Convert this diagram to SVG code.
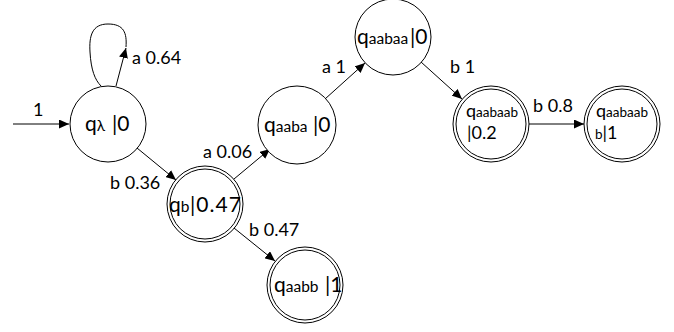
<svg xmlns="http://www.w3.org/2000/svg" width="674" height="332" viewBox="0 0 674 332">
  <defs>
    <marker id="arrow" markerWidth="10" markerHeight="9" refX="10" refY="4.5" orient="auto" markerUnits="userSpaceOnUse">
      <path d="M0,0 L10,4.5 L0,9 z" fill="#000"/>
    </marker>
  </defs>
  <style>
    .state { fill: #fff; stroke: #000; stroke-width: 1; }
    .edge { fill: none; stroke: #000; stroke-width: 1; }
    .name { font-family: Lato, "Liberation Sans", sans-serif; font-size: 21px; fill: #000; }
    .sub { font-size: 15.5px; }
    .small { font-size: 18px; }
    .small .sub { font-size: 13.5px; }
    .label { font-family: Lato, "Liberation Sans", sans-serif; font-size: 18px; fill: #000; }
  </style>
  <rect width="674" height="332" fill="#fff"/>

  <!-- transitions -->
  <g id="edges">
    <line class="edge" x1="13" y1="124" x2="69" y2="124" marker-end="url(#arrow)"/>
    <path class="edge" d="M116,86 L126,48" marker-end="url(#arrow)"/>
    <path class="edge" d="M126,47 C127,33 124,24 108,24 C92,24 89,36 90,52 C91,70 95,80 101,86"/>
    <line class="edge" x1="137" y1="148" x2="176" y2="180" marker-end="url(#arrow)"/>
    <line class="edge" x1="234" y1="179" x2="270" y2="149" marker-end="url(#arrow)"/>
    <line class="edge" x1="325" y1="99" x2="365" y2="63" marker-end="url(#arrow)"/>
    <line class="edge" x1="421" y1="62" x2="462" y2="99" marker-end="url(#arrow)"/>
    <line class="edge" x1="529" y1="124" x2="584" y2="124" marker-end="url(#arrow)"/>
    <line class="edge" x1="234" y1="228" x2="275" y2="261" marker-end="url(#arrow)"/>
    <text class="label" x="33" y="116">1</text>
    <text class="label" x="132" y="64">a 0.64</text>
    <text class="label" x="110" y="189">b 0.36</text>
    <text class="label" x="203" y="158">a 0.06</text>
    <text class="label" x="322" y="73">a 1</text>
    <text class="label" x="450" y="73">b 1</text>
    <text class="label" x="533" y="112">b 0.8</text>
    <text class="label" x="249" y="236">b 0.47</text>
  </g>

  <g id="q_lambda">
    <circle class="state" cx="108" cy="124" r="38"/>
    <text class="name" x="85" y="131">q<tspan class="sub">λ</tspan><tspan x="112">|0</tspan></text>
  </g>

  <g id="q_b">
    <circle class="state" cx="205" cy="204" r="38"/>
    <circle class="state" cx="205" cy="204" r="35"/>
    <text class="name" x="169" y="212">q<tspan class="sub">b</tspan><tspan x="190" textLength="51">|0.47</tspan></text>
  </g>

  <g id="q_aaba">
    <circle class="state" cx="297" cy="125" r="39"/>
    <text class="name" x="264" y="132">q<tspan class="sub">aaba</tspan><tspan x="313">|0</tspan></text>
  </g>

  <g id="q_aabaa">
    <circle class="state" cx="393" cy="37" r="38"/>
    <text class="name" x="357" y="44">q<tspan class="sub">aabaa</tspan><tspan x="410">|0</tspan></text>
  </g>

  <g id="q_aabb">
    <circle class="state" cx="305" cy="285" r="38"/>
    <circle class="state" cx="305" cy="285" r="35"/>
    <text class="name" x="274" y="292">q<tspan class="sub">aabb</tspan><tspan x="325">|1</tspan></text>
  </g>

  <g id="q_aabaab">
    <circle class="state" cx="491" cy="124" r="38"/>
    <circle class="state" cx="491" cy="124" r="35"/>
    <text class="name small" x="466" y="117">q<tspan class="sub">aabaab</tspan></text>
    <text class="name small" x="467" y="139">|0.2</text>
  </g>

  <g id="q_aabaabb">
    <circle class="state" cx="622" cy="124" r="38"/>
    <circle class="state" cx="622" cy="124" r="35"/>
    <text class="name small" x="596" y="117">q<tspan class="sub">aabaab</tspan></text>
    <text class="name small" x="595" y="139"><tspan class="sub">b</tspan>|1</text>
  </g>
</svg>
